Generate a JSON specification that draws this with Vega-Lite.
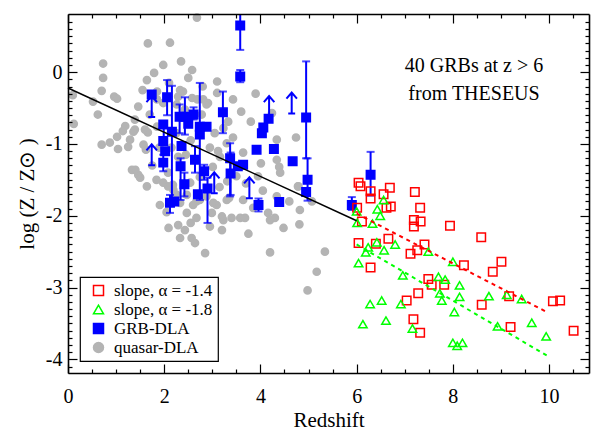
{
  "$schema": "https://vega.github.io/schema/vega-lite/v6.json",
  "width": 521,
  "height": 359,
  "autosize": {"type": "none"},
  "padding": {"left": 68, "top": 14, "right": 6, "bottom": 61},
  "background": "white",
  "config": {
    "font": "Liberation Serif",
    "view": {"stroke": null},
    "axis": {
      "grid": false,
      "domainColor": "black",
      "domainWidth": 1.6,
      "tickColor": "black",
      "tickWidth": 1.2,
      "labelColor": "black",
      "titleColor": "black",
      "labelFont": "Liberation Serif",
      "titleFont": "Liberation Serif",
      "labelFontSize": 20,
      "titleFontSize": 21,
      "titleFontWeight": "normal",
      "labelFlush": false,
      "labelOverlap": false
    },
    "legend": {
      "labelFont": "Liberation Serif",
      "labelFontSize": 17,
      "labelColor": "black",
      "strokeColor": "black",
      "strokeWidth": 1.2,
      "fillColor": "white",
      "padding": 5,
      "rowPadding": 1,
      "symbolSize": 100,
      "symbolStrokeWidth": 1.5,
      "labelOffset": 7,
      "symbolOffset": 5,
      "cornerRadius": 0
    }
  },
  "datasets": {
    "pts": [
      {"s":"quasar-DLA","z":0.10,"m":-0.32},{"s":"quasar-DLA","z":0.12,"m":-0.72},{"s":"quasar-DLA","z":0.52,"m":-0.41},{"s":"quasar-DLA","z":0.62,"m":-0.59},
      {"s":"quasar-DLA","z":0.70,"m":-0.26},{"s":"quasar-DLA","z":0.73,"m":0.12},{"s":"quasar-DLA","z":0.73,"m":-0.08},{"s":"quasar-DLA","z":0.96,"m":-0.34},
      {"s":"quasar-DLA","z":1.02,"m":-0.37},{"s":"quasar-DLA","z":0.70,"m":-1.01},{"s":"quasar-DLA","z":0.87,"m":-0.98},{"s":"quasar-DLA","z":1.02,"m":-0.90},
      {"s":"quasar-DLA","z":1.04,"m":-1.07},{"s":"quasar-DLA","z":1.14,"m":-0.82},{"s":"quasar-DLA","z":1.19,"m":-0.75},{"s":"quasar-DLA","z":1.29,"m":-0.94},
      {"s":"quasar-DLA","z":1.25,"m":-1.04},{"s":"quasar-DLA","z":1.33,"m":-1.36},{"s":"quasar-DLA","z":1.46,"m":-1.43},{"s":"quasar-DLA","z":1.50,"m":-1.47},
      {"s":"quasar-DLA","z":1.62,"m":-1.08},{"s":"quasar-DLA","z":1.66,"m":-0.84},{"s":"quasar-DLA","z":1.66,"m":0.40},{"s":"quasar-DLA","z":1.79,"m":-0.01},
      {"s":"quasar-DLA","z":1.64,"m":-0.11},{"s":"quasar-DLA","z":1.98,"m":0.10},{"s":"quasar-DLA","z":2.12,"m":0.41},{"s":"quasar-DLA","z":2.68,"m":0.76},
      {"s":"quasar-DLA","z":2.58,"m":0.03},{"s":"quasar-DLA","z":2.50,"m":-0.08},{"s":"quasar-DLA","z":3.10,"m":-0.13},{"s":"quasar-DLA","z":1.85,"m":-0.38},
      {"s":"quasar-DLA","z":1.98,"m":-0.43},{"s":"quasar-DLA","z":1.85,"m":-0.76},{"s":"quasar-DLA","z":2.39,"m":-0.27},{"s":"quasar-DLA","z":2.58,"m":-0.36},
      {"s":"quasar-DLA","z":2.43,"m":-0.52},{"s":"quasar-DLA","z":2.78,"m":-0.59},{"s":"quasar-DLA","z":2.91,"m":-0.43},{"s":"quasar-DLA","z":3.10,"m":-0.29},
      {"s":"quasar-DLA","z":3.43,"m":-0.38},{"s":"quasar-DLA","z":3.80,"m":-0.69},{"s":"quasar-DLA","z":3.43,"m":-0.91},{"s":"quasar-DLA","z":3.64,"m":-1.12},
      {"s":"quasar-DLA","z":3.16,"m":-1.18},{"s":"quasar-DLA","z":3.01,"m":-1.32},{"s":"quasar-DLA","z":2.29,"m":-1.18},{"s":"quasar-DLA","z":2.08,"m":-1.40},
      {"s":"quasar-DLA","z":2.18,"m":-1.57},{"s":"quasar-DLA","z":2.54,"m":-1.54},{"s":"quasar-DLA","z":2.74,"m":-1.46},{"s":"quasar-DLA","z":3.31,"m":-1.52},
      {"s":"quasar-DLA","z":1.64,"m":-1.59},{"s":"quasar-DLA","z":2.08,"m":-1.59},{"s":"quasar-DLA","z":1.91,"m":-1.85},{"s":"quasar-DLA","z":2.09,"m":-2.17},
      {"s":"quasar-DLA","z":2.29,"m":-2.13},{"s":"quasar-DLA","z":2.43,"m":-2.20},{"s":"quasar-DLA","z":2.33,"m":-2.31},{"s":"quasar-DLA","z":2.57,"m":-2.31},
      {"s":"quasar-DLA","z":2.64,"m":-2.38},{"s":"quasar-DLA","z":2.47,"m":-1.96},{"s":"quasar-DLA","z":2.67,"m":-2.03},{"s":"quasar-DLA","z":2.85,"m":-2.52},
      {"s":"quasar-DLA","z":2.99,"m":-1.96},{"s":"quasar-DLA","z":3.20,"m":-2.20},{"s":"quasar-DLA","z":3.23,"m":-2.06},{"s":"quasar-DLA","z":3.40,"m":-2.03},
      {"s":"quasar-DLA","z":3.58,"m":-2.03},{"s":"quasar-DLA","z":3.68,"m":-2.03},{"s":"quasar-DLA","z":3.85,"m":-1.89},{"s":"quasar-DLA","z":4.16,"m":-1.96},
      {"s":"quasar-DLA","z":4.20,"m":-2.06},{"s":"quasar-DLA","z":4.34,"m":-1.73},{"s":"quasar-DLA","z":4.48,"m":-2.17},{"s":"quasar-DLA","z":4.20,"m":-2.51},
      {"s":"quasar-DLA","z":4.79,"m":-1.59},{"s":"quasar-DLA","z":4.82,"m":-1.92},{"s":"quasar-DLA","z":4.81,"m":-2.12},{"s":"quasar-DLA","z":5.34,"m":-2.50},
      {"s":"quasar-DLA","z":5.17,"m":-2.78},{"s":"quasar-DLA","z":4.98,"m":-3.04},{"s":"quasar-DLA","z":2.88,"m":-1.73},{"s":"quasar-DLA","z":2.74,"m":-1.78},
      {"s":"quasar-DLA","z":3.09,"m":-1.85},{"s":"quasar-DLA","z":2.26,"m":-1.71},{"s":"quasar-DLA","z":5.07,"m":-1.80},{"s":"quasar-DLA","z":4.39,"m":-1.32},
      {"s":"quasar-DLA","z":4.41,"m":-1.40},{"s":"quasar-DLA","z":4.34,"m":-1.22},{"s":"quasar-DLA","z":4.78,"m":-1.59},{"s":"quasar-DLA","z":4.24,"m":-0.57},
      {"s":"quasar-DLA","z":4.34,"m":-0.94},{"s":"quasar-DLA","z":4.74,"m":-0.91},{"s":"quasar-DLA","z":2.81,"m":-0.38},{"s":"quasar-DLA","z":3.33,"m":-0.69},
      {"s":"quasar-DLA","z":3.23,"m":-0.78},{"s":"quasar-DLA","z":3.30,"m":-0.99},{"s":"quasar-DLA","z":3.12,"m":-1.10},{"s":"quasar-DLA","z":4.01,"m":-1.27},
      {"s":"quasar-DLA","z":3.02,"m":-1.82},{"s":"quasar-DLA","z":3.30,"m":-1.78},{"s":"quasar-DLA","z":3.64,"m":-1.78},{"s":"quasar-DLA","z":4.30,"m":-2.03},
      {"s":"quasar-DLA","z":3.20,"m":-2.01},{"s":"quasar-DLA","z":1.85,"m":-0.27},{"s":"quasar-DLA","z":2.33,"m":-0.25},{"s":"quasar-DLA","z":2.29,"m":-0.34},
      {"s":"quasar-DLA","z":2.69,"m":-0.38},{"s":"quasar-DLA","z":2.88,"m":-0.45},{"s":"quasar-DLA","z":1.46,"m":-0.48},{"s":"quasar-DLA","z":1.70,"m":-0.59},
      {"s":"quasar-DLA","z":1.39,"m":-0.66},{"s":"quasar-DLA","z":1.60,"m":-0.80},{"s":"quasar-DLA","z":1.39,"m":-0.80},{"s":"quasar-DLA","z":2.26,"m":-0.45},
      {"s":"quasar-DLA","z":1.36,"m":-0.83},{"s":"quasar-DLA","z":1.57,"m":-1.01},{"s":"quasar-DLA","z":1.40,"m":-1.36},{"s":"quasar-DLA","z":1.84,"m":-1.50},
      {"s":"quasar-DLA","z":1.98,"m":-1.54},{"s":"quasar-DLA","z":2.19,"m":-1.64},{"s":"quasar-DLA","z":2.47,"m":-1.71},{"s":"quasar-DLA","z":2.33,"m":-1.82},
      {"s":"quasar-DLA","z":2.67,"m":-1.80},{"s":"quasar-DLA","z":2.15,"m":-1.05},{"s":"quasar-DLA","z":2.45,"m":-1.15},{"s":"quasar-DLA","z":2.55,"m":-0.95},
      {"s":"quasar-DLA","z":2.95,"m":-1.05},{"s":"quasar-DLA","z":3.05,"m":-0.85},{"s":"quasar-DLA","z":2.25,"m":-0.85},{"s":"quasar-DLA","z":3.50,"m":-1.45},
      {"s":"quasar-DLA","z":3.70,"m":-1.55},{"s":"quasar-DLA","z":3.95,"m":-1.45},{"s":"quasar-DLA","z":3.60,"m":-0.55},{"s":"quasar-DLA","z":3.90,"m":-0.30},
      {"s":"quasar-DLA","z":2.10,"m":-0.15},{"s":"quasar-DLA","z":2.35,"m":0.15},{"s":"quasar-DLA","z":2.80,"m":-0.20},{"s":"quasar-DLA","z":1.55,"m":-0.25},
      {"s":"quasar-DLA","z":3.35,"m":-1.75},{"s":"quasar-DLA","z":2.95,"m":-2.15},{"s":"quasar-DLA","z":2.55,"m":-2.10},{"s":"quasar-DLA","z":2.05,"m":-1.95},
      {"s":"quasar-DLA","z":3.75,"m":-2.25},{"s":"quasar-DLA","z":4.60,"m":-1.80},{"s":"quasar-DLA","z":4.05,"m":-1.65},{"s":"quasar-DLA","z":1.75,"m":-1.30},
      {"s":"quasar-DLA","z":1.90,"m":-1.05},{"s":"quasar-DLA","z":3.15,"m":-1.60},{"s":"quasar-DLA","z":2.60,"m":-1.85},

      {"s":"GRB-DLA","z":3.58,"m":0.65,"lo":0.31,"hi":0.95},{"s":"GRB-DLA","z":3.58,"m":-0.06,"lo":-0.14,"hi":0.03},{"s":"GRB-DLA","z":1.74,"m":-0.31},
      {"s":"GRB-DLA","z":2.06,"m":-0.35,"lo":-0.60,"hi":-0.11},{"s":"GRB-DLA","z":2.16,"m":-0.83,"lo":-1.80,"hi":-0.19},{"s":"GRB-DLA","z":2.32,"m":-0.62,"lo":-0.85,"hi":-0.45},
      {"s":"GRB-DLA","z":2.43,"m":-0.62,"lo":-0.87,"hi":-0.35},{"s":"GRB-DLA","z":2.50,"m":-0.72},{"s":"GRB-DLA","z":2.61,"m":-0.59,"lo":-0.66,"hi":-0.49},
      {"s":"GRB-DLA","z":2.74,"m":-0.76,"lo":-1.78,"hi":-0.15},{"s":"GRB-DLA","z":2.74,"m":-0.87},{"s":"GRB-DLA","z":2.88,"m":-0.76},
      {"s":"GRB-DLA","z":3.22,"m":-0.56,"lo":-0.85,"hi":-0.27},{"s":"GRB-DLA","z":1.98,"m":-0.73},{"s":"GRB-DLA","z":1.98,"m":-0.96},
      {"s":"GRB-DLA","z":2.02,"m":-1.10},{"s":"GRB-DLA","z":1.98,"m":-1.26,"lo":-1.38,"hi":-1.15},{"s":"GRB-DLA","z":2.36,"m":-1.03},
      {"s":"GRB-DLA","z":2.34,"m":-1.31,"lo":-1.78,"hi":-1.20},{"s":"GRB-DLA","z":2.64,"m":-1.22,"lo":-1.40,"hi":-1.03},{"s":"GRB-DLA","z":2.83,"m":-1.38,"lo":-1.50,"hi":-1.29},
      {"s":"GRB-DLA","z":2.42,"m":-1.56,"lo":-1.73,"hi":-1.40},{"s":"GRB-DLA","z":2.70,"m":-1.70},{"s":"GRB-DLA","z":2.90,"m":-1.62,"lo":-2.10,"hi":-1.47},
      {"s":"GRB-DLA","z":3.37,"m":-1.20,"lo":-1.73,"hi":-0.99},{"s":"GRB-DLA","z":3.38,"m":-1.41,"lo":-1.71,"hi":-1.12},{"s":"GRB-DLA","z":3.53,"m":-1.31},
      {"s":"GRB-DLA","z":3.64,"m":-1.29},{"s":"GRB-DLA","z":3.92,"m":-1.08},{"s":"GRB-DLA","z":4.06,"m":-0.77},
      {"s":"GRB-DLA","z":4.03,"m":-0.85},{"s":"GRB-DLA","z":4.17,"m":-0.65},{"s":"GRB-DLA","z":4.28,"m":-1.07},
      {"s":"GRB-DLA","z":3.96,"m":-1.85,"lo":-1.94,"hi":-1.76},{"s":"GRB-DLA","z":4.39,"m":-1.81},{"s":"GRB-DLA","z":4.95,"m":-0.63,"lo":-1.20,"hi":0.15},
      {"s":"GRB-DLA","z":4.98,"m":-1.50,"lo":-1.79,"hi":-1.20},{"s":"GRB-DLA","z":4.95,"m":-1.67},{"s":"GRB-DLA","z":4.67,"m":-1.24},
      {"s":"GRB-DLA","z":5.90,"m":-1.85,"lo":-1.92,"hi":-1.74},{"s":"GRB-DLA","z":6.29,"m":-1.43,"lo":-1.72,"hi":-1.11},{"s":"GRB-DLA","z":2.12,"m":-1.82,"lo":-1.96,"hi":-1.71},
      {"s":"GRB-DLA","z":2.21,"m":-1.80},

      {"s":"slope, α = -1.4","z":6.04,"m":-1.54},{"s":"slope, α = -1.4","z":6.08,"m":-1.59},{"s":"slope, α = -1.4","z":6.29,"m":-1.66},{"s":"slope, α = -1.4","z":6.29,"m":-1.76},
      {"s":"slope, α = -1.4","z":6.56,"m":-1.70},{"s":"slope, α = -1.4","z":6.69,"m":-1.61},{"s":"slope, α = -1.4","z":6.62,"m":-1.89},{"s":"slope, α = -1.4","z":6.71,"m":-1.87},
      {"s":"slope, α = -1.4","z":7.21,"m":-1.67},{"s":"slope, α = -1.4","z":7.32,"m":-1.89},{"s":"slope, α = -1.4","z":6.01,"m":-1.89},{"s":"slope, α = -1.4","z":6.11,"m":-2.08},
      {"s":"slope, α = -1.4","z":7.19,"m":-2.06},{"s":"slope, α = -1.4","z":7.19,"m":-2.15},{"s":"slope, α = -1.4","z":7.33,"m":-2.08},{"s":"slope, α = -1.4","z":7.94,"m":-2.14},
      {"s":"slope, α = -1.4","z":6.04,"m":-2.38},{"s":"slope, α = -1.4","z":6.40,"m":-2.39},{"s":"slope, α = -1.4","z":6.66,"m":-2.32},{"s":"slope, α = -1.4","z":7.41,"m":-2.40},
      {"s":"slope, α = -1.4","z":7.26,"m":-2.48},{"s":"slope, α = -1.4","z":7.12,"m":-2.53},{"s":"slope, α = -1.4","z":6.29,"m":-2.72},{"s":"slope, α = -1.4","z":8.23,"m":-2.69},
      {"s":"slope, α = -1.4","z":8.59,"m":-2.30},{"s":"slope, α = -1.4","z":9.01,"m":-2.64},{"s":"slope, α = -1.4","z":8.83,"m":-2.78},{"s":"slope, α = -1.4","z":7.49,"m":-2.88},
      {"s":"slope, α = -1.4","z":7.56,"m":-2.96},{"s":"slope, α = -1.4","z":7.82,"m":-2.96},{"s":"slope, α = -1.4","z":7.28,"m":-3.08},{"s":"slope, α = -1.4","z":7.04,"m":-3.18},
      {"s":"slope, α = -1.4","z":8.60,"m":-3.24},{"s":"slope, α = -1.4","z":9.17,"m":-3.12},{"s":"slope, α = -1.4","z":7.18,"m":-3.44},{"s":"slope, α = -1.4","z":7.32,"m":-3.63},
      {"s":"slope, α = -1.4","z":9.20,"m":-3.55},{"s":"slope, α = -1.4","z":10.08,"m":-3.19},{"s":"slope, α = -1.4","z":10.23,"m":-3.18},{"s":"slope, α = -1.4","z":10.51,"m":-3.60},

      {"s":"slope, α = -1.8","z":6.56,"m":-1.78},{"s":"slope, α = -1.8","z":6.43,"m":-1.91},{"s":"slope, α = -1.8","z":6.49,"m":-2.00},{"s":"slope, α = -1.8","z":6.00,"m":-1.94},
      {"s":"slope, α = -1.8","z":6.01,"m":-2.10},{"s":"slope, α = -1.8","z":6.33,"m":-2.11},{"s":"slope, α = -1.8","z":6.42,"m":-2.37},{"s":"slope, α = -1.8","z":6.24,"m":-2.44},
      {"s":"slope, α = -1.8","z":6.19,"m":-2.51},{"s":"slope, α = -1.8","z":6.57,"m":-2.48},{"s":"slope, α = -1.8","z":6.80,"m":-2.40},{"s":"slope, α = -1.8","z":7.49,"m":-2.50},
      {"s":"slope, α = -1.8","z":6.04,"m":-2.66},{"s":"slope, α = -1.8","z":8.00,"m":-2.64},{"s":"slope, α = -1.8","z":6.96,"m":-2.83},{"s":"slope, α = -1.8","z":7.70,"m":-2.85},
      {"s":"slope, α = -1.8","z":7.84,"m":-2.89},{"s":"slope, α = -1.8","z":8.14,"m":-2.97},{"s":"slope, α = -1.8","z":7.73,"m":-3.08},{"s":"slope, α = -1.8","z":7.77,"m":-3.18},
      {"s":"slope, α = -1.8","z":8.14,"m":-3.13},{"s":"slope, α = -1.8","z":8.75,"m":-3.12},{"s":"slope, α = -1.8","z":9.12,"m":-3.10},{"s":"slope, α = -1.8","z":9.43,"m":-3.16},
      {"s":"slope, α = -1.8","z":6.28,"m":-3.23},{"s":"slope, α = -1.8","z":6.52,"m":-3.18},{"s":"slope, α = -1.8","z":6.92,"m":-3.23},{"s":"slope, α = -1.8","z":8.03,"m":-3.34},
      {"s":"slope, α = -1.8","z":6.13,"m":-3.51},{"s":"slope, α = -1.8","z":6.61,"m":-3.46},{"s":"slope, α = -1.8","z":7.16,"m":-3.57},{"s":"slope, α = -1.8","z":8.93,"m":-3.54},
      {"s":"slope, α = -1.8","z":9.64,"m":-3.49},{"s":"slope, α = -1.8","z":9.94,"m":-3.68},{"s":"slope, α = -1.8","z":8.00,"m":-3.77},{"s":"slope, α = -1.8","z":8.09,"m":-3.81},
      {"s":"slope, α = -1.8","z":8.20,"m":-3.77}
    ],
    "lim": [
      {"z":1.74,"m":-0.48},{"z":1.74,"m":-1.15},{"z":1.99,"m":-0.86},{"z":3.04,"m":-1.54},
      {"z":3.77,"m":-1.61},{"z":4.18,"m":-0.48},{"z":4.65,"m":-0.43}
    ],
    "fits": [
      {"fit":"all","z":0,"m":-0.22},{"fit":"all","z":6,"m":-2.07},
      {"fit":"a14","z":6,"m":-1.97},{"fit":"a14","z":9.98,"m":-3.35},
      {"fit":"a18","z":6,"m":-2.40},{"fit":"a18","z":9.99,"m":-3.96}
    ],
    "note": [
      {"z":8.44,"m":0.09,"t":"40 GRBs at z > 6\nfrom THESEUS"}
    ]
  },
  "resolve": {"axis": {"x": "independent", "y": "independent"}},
  "layer": [
    {
      "data": {"name": "pts"},
      "transform": [{"filter": "datum.s === 'quasar-DLA'"}],
      "mark": {"type": "point", "filled": true, "size": 52, "strokeWidth": 1.5, "opacity": 1},
      "encoding": {
        "x": {"field": "z", "type": "quantitative", "scale": {"domain": [0, 10.83], "nice": false, "zero": false},
              "axis": {"orient": "bottom", "values": [0, 2, 4, 6, 8, 10], "tickSize": -9, "labelPadding": 22, "title": "Redshift", "titlePadding": 3, "zindex": 1}},
        "y": {"field": "m", "type": "quantitative", "scale": {"domain": [-4.19, 0.81], "nice": false, "zero": false},
              "axis": {"orient": "left", "values": [-4, -3, -2, -1, 0], "tickSize": -9, "labelPadding": 15, "labelExpr": "toString(datum.value)", "title": "log (Z / Z⊙ )", "titlePadding": 8, "zindex": 1}},
        "shape": {"field": "s", "type": "nominal", "scale": {"domain": ["slope, α = -1.4", "slope, α = -1.8", "GRB-DLA", "quasar-DLA"], "range": ["square", "triangle-up", "square", "circle"]}, "legend": {"title": null, "orient": "none", "legendX": 12, "legendY": 263}},
        "fill": {"field": "s", "type": "nominal", "scale": {"domain": ["slope, α = -1.4", "slope, α = -1.8", "GRB-DLA", "quasar-DLA"], "range": ["transparent", "transparent", "#0000ff", "#b4b4b4"]}, "legend": {"title": null, "orient": "none", "legendX": 12, "legendY": 263}},
        "stroke": {"field": "s", "type": "nominal", "scale": {"domain": ["slope, α = -1.4", "slope, α = -1.8", "GRB-DLA", "quasar-DLA"], "range": ["#ff0000", "#00ff00", "#0000ff", "#b4b4b4"]}, "legend": {"title": null, "orient": "none", "legendX": 12, "legendY": 263}}
      }
    },
    {
      "data": {"name": "pts"},
      "transform": [{"filter": {"field": "lo", "valid": true}}],
      "mark": {"type": "rule", "color": "#0000ff", "strokeWidth": 2, "clip": true},
      "encoding": {
        "x": {"field": "z", "type": "quantitative", "scale": {"domain": [0, 10.83], "nice": false, "zero": false},
              "axis": {"orient": "bottom", "values": [0.5, 1, 1.5, 2.5, 3, 3.5, 4.5, 5, 5.5, 6.5, 7, 7.5, 8.5, 9, 9.5, 10.5], "tickSize": -4, "labels": false, "domain": false, "title": null, "zindex": 1}},
        "y": {"field": "lo", "type": "quantitative", "scale": {"domain": [-4.19, 0.81], "nice": false, "zero": false},
              "axis": {"orient": "left", "values": [-4.1, -3.9, -3.8, -3.7, -3.6, -3.5, -3.4, -3.3, -3.2, -3.1, -2.9, -2.8, -2.7, -2.6, -2.5, -2.4, -2.3, -2.2, -2.1, -1.9, -1.8, -1.7, -1.6, -1.5, -1.4, -1.3, -1.2, -1.1, -0.9, -0.8, -0.7, -0.6, -0.5, -0.4, -0.3, -0.2, -0.1, 0.1, 0.2, 0.3, 0.4, 0.5, 0.6, 0.7], "tickSize": -4, "labels": false, "domain": false, "title": null, "zindex": 1}},
        "y2": {"field": "hi"}
      }
    },
    {
      "data": {"name": "pts"},
      "transform": [{"filter": {"field": "lo", "valid": true}}],
      "mark": {"type": "tick", "orient": "horizontal", "color": "#0000ff", "size": 8, "thickness": 2, "clip": true},
      "encoding": {
        "x": {"field": "z", "type": "quantitative", "scale": {"domain": [0, 10.83], "nice": false, "zero": false}, "axis": null},
        "y": {"field": "lo", "type": "quantitative", "scale": {"domain": [-4.19, 0.81], "nice": false, "zero": false}, "axis": null}
      }
    },
    {
      "data": {"name": "pts"},
      "transform": [{"filter": {"field": "hi", "valid": true}}],
      "mark": {"type": "tick", "orient": "horizontal", "color": "#0000ff", "size": 8, "thickness": 2, "clip": true},
      "encoding": {
        "x": {"field": "z", "type": "quantitative", "scale": {"domain": [0, 10.83], "nice": false, "zero": false}, "axis": null},
        "y": {"field": "hi", "type": "quantitative", "scale": {"domain": [-4.19, 0.81], "nice": false, "zero": false}, "axis": null}
      }
    },
    {
      "data": {"name": "lim"},
      "mark": {"type": "point", "shape": "M-0.33,1L0.33,1M0,1L0,-1M-0.5,-0.42L0,-1L0.5,-0.42", "size": 441, "filled": false, "stroke": "#0000ff", "strokeWidth": 2, "opacity": 1},
      "encoding": {
        "x": {"field": "z", "type": "quantitative", "scale": {"domain": [0, 10.83], "nice": false, "zero": false}, "axis": null},
        "y": {"field": "m", "type": "quantitative", "scale": {"domain": [-4.19, 0.81], "nice": false, "zero": false}, "axis": null}
      }
    },
    {
      "data": {"name": "pts"},
      "transform": [{"filter": "datum.s !== 'quasar-DLA'"}],
      "mark": {"type": "point", "filled": true, "size": 72, "strokeWidth": 1.5, "opacity": 1},
      "encoding": {
        "x": {"field": "z", "type": "quantitative", "scale": {"domain": [0, 10.83], "nice": false, "zero": false},
              "axis": {"orient": "top", "values": [0, 2, 4, 6, 8, 10], "tickSize": -9, "labels": false, "title": null, "zindex": 1}},
        "y": {"field": "m", "type": "quantitative", "scale": {"domain": [-4.19, 0.81], "nice": false, "zero": false},
              "axis": {"orient": "right", "values": [-4, -3, -2, -1, 0], "tickSize": -9, "labels": false, "title": null, "zindex": 1}},
        "shape": {"field": "s", "type": "nominal", "scale": {"domain": ["slope, α = -1.4", "slope, α = -1.8", "GRB-DLA", "quasar-DLA"], "range": ["square", "triangle-up", "square", "circle"]}, "legend": {"title": null, "orient": "none", "legendX": 12, "legendY": 263}},
        "fill": {"field": "s", "type": "nominal", "scale": {"domain": ["slope, α = -1.4", "slope, α = -1.8", "GRB-DLA", "quasar-DLA"], "range": ["transparent", "transparent", "#0000ff", "#b4b4b4"]}, "legend": {"title": null, "orient": "none", "legendX": 12, "legendY": 263}},
        "stroke": {"field": "s", "type": "nominal", "scale": {"domain": ["slope, α = -1.4", "slope, α = -1.8", "GRB-DLA", "quasar-DLA"], "range": ["#ff0000", "#00ff00", "#0000ff", "#b4b4b4"]}, "legend": {"title": null, "orient": "none", "legendX": 12, "legendY": 263}}
      }
    },
    {
      "data": {"name": "fits"},
      "transform": [{"filter": "datum.fit === 'all'"}],
      "mark": {"type": "line", "color": "black", "strokeWidth": 1.5},
      "encoding": {
        "x": {"field": "z", "type": "quantitative", "scale": {"domain": [0, 10.83], "nice": false, "zero": false},
              "axis": {"orient": "top", "values": [0.5, 1, 1.5, 2.5, 3, 3.5, 4.5, 5, 5.5, 6.5, 7, 7.5, 8.5, 9, 9.5, 10.5], "tickSize": -4, "labels": false, "domain": false, "title": null, "zindex": 1}},
        "y": {"field": "m", "type": "quantitative", "scale": {"domain": [-4.19, 0.81], "nice": false, "zero": false},
              "axis": {"orient": "right", "values": [-4.1, -3.9, -3.8, -3.7, -3.6, -3.5, -3.4, -3.3, -3.2, -3.1, -2.9, -2.8, -2.7, -2.6, -2.5, -2.4, -2.3, -2.2, -2.1, -1.9, -1.8, -1.7, -1.6, -1.5, -1.4, -1.3, -1.2, -1.1, -0.9, -0.8, -0.7, -0.6, -0.5, -0.4, -0.3, -0.2, -0.1, 0.1, 0.2, 0.3, 0.4, 0.5, 0.6, 0.7], "tickSize": -4, "labels": false, "domain": false, "title": null, "zindex": 1}}
      }
    },
    {
      "data": {"name": "fits"},
      "transform": [{"filter": "datum.fit === 'a14'"}],
      "mark": {"type": "line", "color": "#ff0000", "strokeWidth": 2, "strokeDash": [4, 4]},
      "encoding": {
        "x": {"field": "z", "type": "quantitative", "scale": {"domain": [0, 10.83], "nice": false, "zero": false}, "axis": null},
        "y": {"field": "m", "type": "quantitative", "scale": {"domain": [-4.19, 0.81], "nice": false, "zero": false}, "axis": null}
      }
    },
    {
      "data": {"name": "fits"},
      "transform": [{"filter": "datum.fit === 'a18'"}],
      "mark": {"type": "line", "color": "#00ff00", "strokeWidth": 2, "strokeDash": [4, 4]},
      "encoding": {
        "x": {"field": "z", "type": "quantitative", "scale": {"domain": [0, 10.83], "nice": false, "zero": false}, "axis": null},
        "y": {"field": "m", "type": "quantitative", "scale": {"domain": [-4.19, 0.81], "nice": false, "zero": false}, "axis": null}
      }
    },
    {
      "data": {"name": "note"},
      "mark": {"type": "text", "font": "Liberation Serif", "fontSize": 20, "color": "black", "align": "center", "baseline": "middle", "lineBreak": "\n", "lineHeight": 28},
      "encoding": {
        "x": {"field": "z", "type": "quantitative", "scale": {"domain": [0, 10.83], "nice": false, "zero": false}, "axis": null},
        "y": {"field": "m", "type": "quantitative", "scale": {"domain": [-4.19, 0.81], "nice": false, "zero": false}, "axis": null},
        "text": {"field": "t"}
      }
    }
  ]
}
